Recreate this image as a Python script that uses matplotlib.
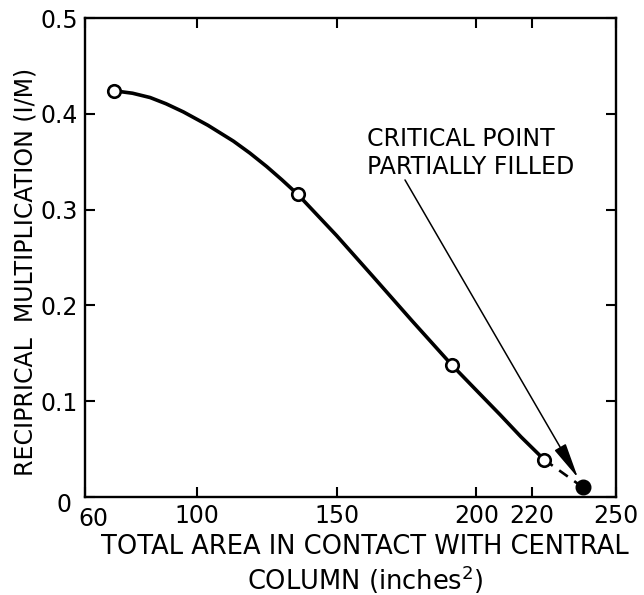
import numpy as np
import matplotlib
matplotlib.use("Agg")
import matplotlib.pyplot as plt
from matplotlib.transforms import ScaledTranslation

# ── Data ────────────────────────────────────────────────────────────────────
area = [70.5, 136.1, 191.2, 224.3]          # open circles, inches^2
recip = [0.424, 0.316, 0.138, 0.039]        # 1/M

crit_area = 238.2                            # critical point, partially filled
crit_recip = 0.010

# traced hand-drawn curve through the open circles
trace_x = [70.5, 77.0, 83.3, 89.0, 95.2, 104.0, 113.1, 119.0, 125.0, 130.5,
           136.1, 150.0, 163.1, 177.0, 191.2, 200.0, 208.5, 216.0, 224.3]
trace_y = [0.424, 0.4215, 0.417, 0.4105, 0.402, 0.388, 0.3715, 0.359, 0.345, 0.331,
           0.316, 0.273, 0.230, 0.184, 0.138, 0.1115, 0.086, 0.0628, 0.039]

x_ticks = [60, 100, 150, 200, 220, 250]
y_ticks = [0, 0.1, 0.2, 0.3, 0.4, 0.5]
y_ticklabels = ["0", "0.1", "0.2", "0.3", "0.4", "0.5"]

arrow_start = (174.5, 0.331)
arrow_tip = (236.4, 0.020)

# ── Plot ────────────────────────────────────────────────────────────────────
plt.rcParams["font.family"] = ["DejaVu Sans"]
plt.rcParams["mathtext.default"] = "regular"

fig = plt.figure(figsize=(6.44, 5.95), dpi=100)
ax = fig.add_axes([0.132, 0.1647, 0.8245, 0.805])

ax.plot(trace_x, trace_y, color="black", linewidth=2.6, solid_capstyle="round",
        solid_joinstyle="round", zorder=2)
ax.plot([area[-1], crit_area], [recip[-1], crit_recip], color="black",
        linewidth=1.9, linestyle=(0, (4, 3)), zorder=2)
ax.plot(area, recip, linestyle="none", marker="o", markersize=9,
        markerfacecolor="white", markeredgecolor="black", markeredgewidth=1.9, zorder=3)
ax.plot([crit_area], [crit_recip], linestyle="none", marker="o", markersize=10.5,
        color="black", zorder=3)

ax.annotate("", xy=arrow_tip, xytext=arrow_start,
            arrowprops=dict(arrowstyle="-|>,head_length=1.1,head_width=0.2",
                            mutation_scale=20, color="black", lw=1.1,
                            shrinkA=0, shrinkB=0))
ax.text(160.9, 0.386, "CRITICAL POINT\nPARTIALLY FILLED", fontsize=17,
        ha="left", va="top", linespacing=1.2)

ax.set_xlim(60, 250)
ax.set_ylim(0, 0.5)
ax.set_xticks(x_ticks)
ax.set_xticklabels([str(v) for v in x_ticks])
ax.set_yticks(y_ticks)
ax.set_yticklabels(y_ticklabels)

for s in ax.spines.values():
    s.set_linewidth(1.7)
ax.tick_params(direction="in", length=7, width=1.5, top=True, right=True,
               labelsize=17, pad=5)

# the corner labels "0" and "60" sit apart from each other in the original
lbl60 = ax.xaxis.get_major_ticks()[0].label1
lbl60.set_transform(lbl60.get_transform() + ScaledTranslation(6 / 72, -2 / 72, fig.dpi_scale_trans))
lbl0 = ax.yaxis.get_major_ticks()[0].label1
lbl0.set_transform(lbl0.get_transform() + ScaledTranslation(-5 / 72, -4 / 72, fig.dpi_scale_trans))

ax.set_xlabel("TOTAL AREA IN CONTACT WITH CENTRAL\nCOLUMN (inches$^2$)",
              fontsize=18.5, linespacing=1.1)
ax.xaxis.set_label_coords(0.527, -0.078)
ax.xaxis.label.set_va("top")
ax.set_ylabel("RECIPRICAL  MULTIPLICATION (I/M)", fontsize=17)
ax.yaxis.set_label_coords(-0.09, 0.47)

fig.savefig("out.png", dpi=100)
